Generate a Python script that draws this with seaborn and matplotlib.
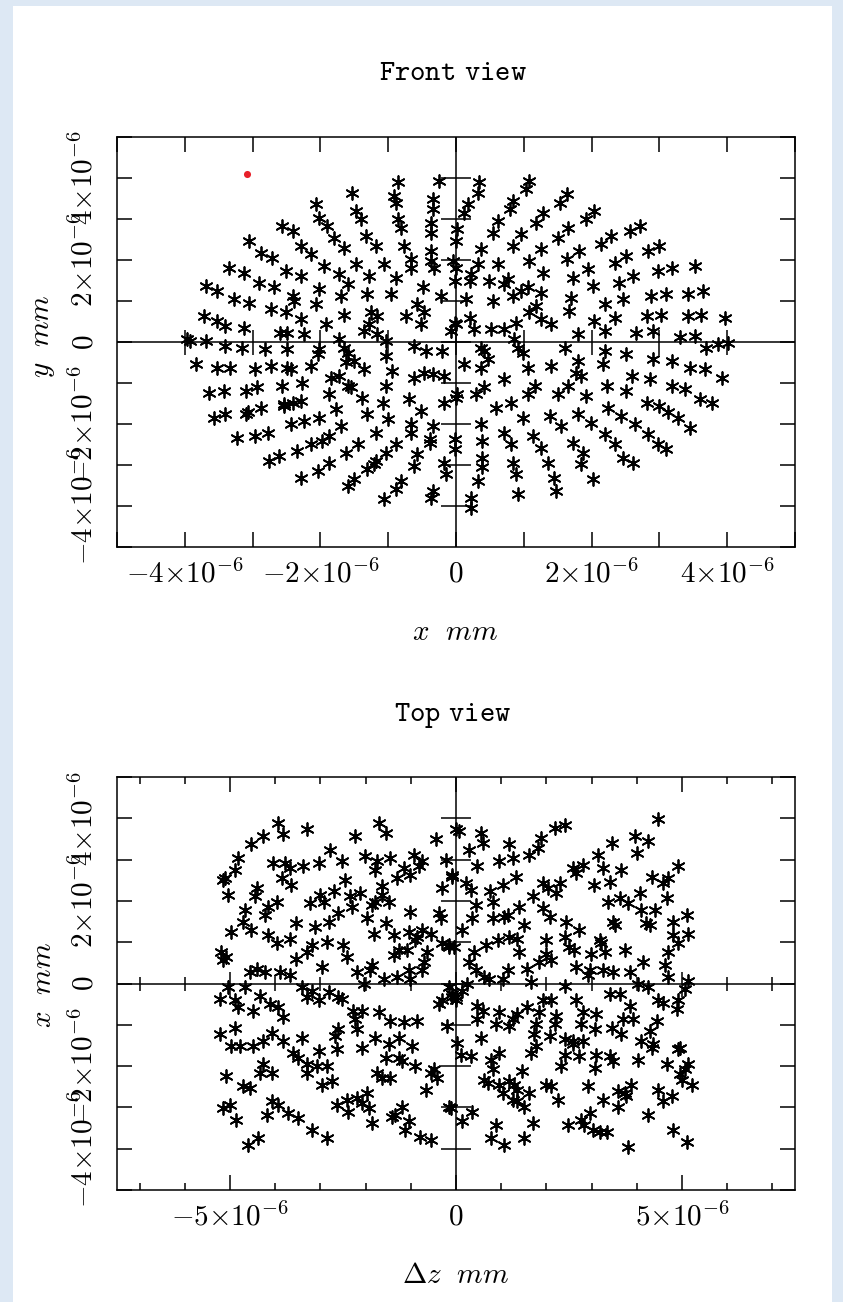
import matplotlib
matplotlib.use("Agg")
import matplotlib.pyplot as plt
from matplotlib.patches import Rectangle
from matplotlib.ticker import MultipleLocator, FuncFormatter
import seaborn as sns

# spot diagram values, in units of 1e-6 mm

# front view: x, y
front_x = [
    -0.86, -0.25, -0.91, -0.89, -0.34, -0.34, -1.53, -1.48, -1.40, -2.07, -2.02, -1.90, -2.56, -2.41,
    -3.05, -2.88, -2.71, -0.86, -0.81, -0.37, -0.37, -1.33, -1.18, -1.80, -1.65, -2.29, -2.14, -0.76,
    -0.66, -0.66, -0.37, -0.37, -0.32, -1.48, -1.06, -1.95, -1.72, -1.60, -2.51, -2.29, -3.35, -3.13,
    -2.91, -2.68, -3.69, -3.52, -3.28, -3.05, -2.73, -2.51, -2.29, -2.41, -2.39, -2.02, -2.07, -1.70,
    -1.28, -1.31, -0.89, -0.96, -0.49, -0.22, -0.57, -0.47, -0.52, -0.74, -1.26, -1.16, -1.28, -1.35,
    -1.65, -1.92, -3.72, -3.52, -3.40, -3.13, -2.59, -2.49, -2.24, -3.97, -3.92, -3.69, -3.40, -3.15,
    -2.81, -2.49, -2.02, -2.04, -1.72, -1.65, -1.60, -1.16, -1.03, -0.62, -0.44, -0.20, -0.07, -0.02,
    -0.05, 0.00,
    -3.84, -3.52, -3.33, -2.96, -2.73, -2.49, -2.44, -2.14, -3.64, -3.42, -3.10, -2.93, -2.56, -2.27,
    -1.84, -1.72, -1.63, -1.50, -1.35, -1.60, -1.55, -1.03, -0.94, -1.03, -0.62, -0.47, -0.34, -0.17,
    -3.57, -3.40, -3.10, -3.07, -2.88, -2.54, -2.54, -2.41, -2.29, -1.87, -1.77, -1.38, -1.31, -1.08,
    -0.69, -0.52, -0.17, -3.23, -2.96, -2.78, -2.44, -2.24, -2.02, -1.70, -1.87, -1.97, -1.18, -1.01,
    -0.66, -0.66, -0.34, -0.39, -0.02, -0.02, -2.76, -2.61, -2.34, -2.14, -1.63, -1.45, -1.18, -1.03,
    -0.89, -0.57, -0.62, -0.39, -0.17, -0.15, -2.29, -2.04, -1.87, -1.60, -1.50, -1.31, -1.21, -1.06,
    -0.89, -0.81, -0.37, -0.34,
    0.34, 0.32, 0.17, 0.12, 0.02, 0.00, 1.08, 1.03, 0.84, 0.79, 0.62, 0.54, 0.37, 0.32,
    1.63, 1.53, 1.28, 1.18, 0.96, 0.84, 0.62, 0.49, 0.22, 0.20, -0.02,
    2.04, 1.92, 1.65, 1.50, 1.26, 1.08, 0.76, 0.71, 0.54, 0.15,
    2.71, 2.56, 2.29, 2.14, 1.82, 1.63, 1.28, 1.06, 0.96, 0.84,
    3.00, 2.83, 2.51, 2.34, 1.95, 1.72, 1.26, 1.18, 1.08,
    3.52, 3.18, 2.98, 2.61, 2.41, 2.02, 1.70, 1.67,
    3.64, 3.42, 3.10, 2.88, 2.46, 2.19, 2.04, 2.34,
    3.96, 3.62, 3.42, 3.03, 2.81, 1.40, 1.26,
    0.89, 0.71, 0.52, 0.27, 0.20, 0.00,
    1.80, 2.19, 2.66, 2.91, 3.30, 3.52, 3.69, 3.87, 4.01,
    2.19, 2.17, 2.51, 2.91, 3.18, 3.45, 3.67, 3.92,
    1.60, 1.80, 1.77, 1.85, 1.40, 1.06,
    0.86, 0.91, 0.99, 0.37, 0.42, 0.47, 0.12, 0.37,
    0.71, 0.42, 0.30, 0.02, 0.00,
    1.16, 1.06, 0.81, 0.59, 1.65, 1.50, 1.92,
    2.22, 2.51, 2.59, 2.86, 3.18, 3.37, 3.60, 3.77,
    2.81, 3.00, 3.13, 3.28, 3.45,
    2.24, 2.44, 1.80, 1.99, 1.38, 1.55, 0.99,
    0.37, 0.39,
    0.71, 0.81, 1.13, 1.26, 1.72, 1.87, 2.19, 2.34,
    2.64, 2.83, 2.98, 3.10, 2.46, 2.61,
    1.85, 2.02, 1.35, 1.45, 1.48,
    0.84, 0.89, 0.91, 0.39, 0.39, 0.32, 0.22, 0.22,
]
front_y = [
    3.89, 3.93, 3.56, 3.40, 3.48, 3.24, 3.64, 3.20, 3.00, 3.36, 3.03, 2.83, 2.83, 2.71,
    2.46, 2.18, 2.06, 3.00, 2.79, 2.91, 2.67, 2.59, 2.34, 2.54, 2.30, 2.34, 2.14, 2.34,
    2.02, 1.81, 2.22, 1.98, 1.81, 1.89, 1.89, 1.85, 1.65, 1.41, 1.73, 1.61, 1.81, 1.69,
    1.45, 1.33, 1.37, 1.24, 1.04, 0.96, 0.80, 0.72, 0.55, 1.12, 1.00, 1.28, 0.92, 1.12,
    1.61, 1.16, 1.57, 1.16, 1.33, 1.12, 0.92, 0.72, 0.43, 0.63, 0.72, 0.63, 0.43, 0.27,
    0.67, 0.43, 0.63, 0.51, 0.39, 0.35, 0.23, 0.23, 0.19, 0.07, 0.02, 0.02, -0.10, -0.14,
    -0.18, -0.18, -0.18, -0.30, 0.07, -0.14, -0.26, 0.19, 0.02, -0.10, -0.22, -0.22, 0.27, 0.47,
    1.98, 1.81,
    -0.54, -0.63, -0.63, -0.67, -0.59, -0.63, -0.67, -0.59, -1.24, -1.20, -1.20, -1.11, -1.07, -0.99,
    -0.87, -0.83, -0.50, -0.46, -0.67, -1.07, -1.11, -0.34, -0.71, -1.07, -0.87, -0.75, -0.79, -0.83,
    -1.85, -1.76, -1.76, -1.72, -1.60, -1.56, -1.52, -1.48, -1.44, -1.28, -1.64, -1.36, -1.76, -1.48,
    -1.40, -1.68, -1.48, -2.33, -2.29, -2.21, -2.00, -1.93, -1.85, -2.05, -2.29, -2.41, -2.21, -1.89,
    -2.00, -2.21, -2.05, -2.37, -2.37, -2.62, -2.90, -2.78, -2.66, -2.50, -2.70, -2.50, -2.90, -2.70,
    -2.50, -2.74, -3.02, -2.46, -2.94, -3.23, -3.31, -3.15, -2.94, -3.51, -3.35, -3.11, -2.98, -3.84,
    -3.59, -3.39, -3.80, -3.63,
    3.89, 3.64, 3.36, 3.15, 2.75, 2.46, 3.93, 3.72, 3.44, 3.24, 2.95, 2.67, 2.26, 1.89,
    3.60, 3.40, 3.15, 2.91, 2.63, 2.34, 1.89, 1.49, 1.65, 1.49, 1.49,
    3.20, 2.99, 2.79, 2.54, 2.26, 1.98, 1.53, 1.41, 1.00, 1.04,
    2.83, 2.71, 2.59, 2.38, 2.22, 2.02, 1.69, 1.33, 1.24, 1.12,
    2.34, 2.22, 2.10, 1.93, 1.77, 1.57, 1.20, 0.88, 0.72,
    1.85, 1.81, 1.73, 1.61, 1.45, 1.37, 1.08, 0.76,
    1.24, 1.16, 1.16, 1.12, 1.04, 0.92, 0.51, 0.59,
    0.59, 0.67, 0.63, 0.67, 0.63, 0.43, 0.55,
    0.47, 0.31, 0.31, 0.31, 0.59, 0.43,
    0.19, 0.27, 0.23, 0.27, 0.11, 0.15, -0.14, -0.06, -0.02,
    -0.22, -0.54, -0.30, -0.42, -0.46, -0.63, -0.67, -0.87,
    -0.14, -0.46, -0.75, -0.83, -0.59, -0.63,
    0.07, -0.14, -0.26, -0.14, -0.22, -0.42, -0.54, -0.63,
    -0.91, -1.11, -1.28, -1.28, -1.36,
    -1.07, -1.28, -1.48, -1.60, -1.07, -1.28, -1.32,
    -1.07, -1.20, -0.83, -0.91, -1.07, -1.15, -1.40, -1.48,
    -1.48, -1.56, -1.72, -1.85, -2.09,
    -1.60, -1.80, -1.76, -1.97, -1.80, -2.05, -1.85,
    -2.01, -2.41,
    -2.21, -2.50, -2.29, -2.58, -2.46, -2.70, -2.25, -2.50,
    -2.01, -2.25, -2.50, -2.62, -2.82, -2.94,
    -2.98, -3.35, -2.94, -3.31, -3.63,
    -2.94, -3.23, -3.72, -2.82, -3.06, -3.39, -3.80, -4.04,
]

# the one highlighted (red) ray in the front view
chief_x = [-3.09]
chief_y = [4.09]

# top view: dz, x
top_dz = [
    -3.93, -3.82, -3.30, -4.27, -4.53, -4.82, -4.90, -5.16, -5.12, -5.04,
    -2.79, -2.23, -1.71, -1.56, -0.45,
    -4.04, -3.79, -3.68, -3.38, -3.04, -2.53, -2.01, -1.75, -1.79, -1.45, -1.30,
    -0.93, -0.75, -0.82, -1.16, -1.01, -0.23, -0.08, 0.00,
    -3.86, -3.64, -4.41, -4.45, -2.45, -1.63, -1.63, -0.30,
    -3.97, -4.16, -4.23, -3.01, -3.23, -2.93, -2.71, -2.34, -2.30, -2.12, -1.86, -1.79, -1.49,
    -4.67, -4.71, -4.53, -2.60, -2.82, -3.12, -3.53, -1.97, -1.82, -1.56, -1.01, -0.38, -0.34,
    -4.97, -4.16, -3.97, -3.67, -2.86, -3.19, -3.30, -3.53, -2.49, -2.41, -1.38, -1.27, -1.38,
    -1.04, -0.86, -0.75, -0.56, -1.08, -0.90, -0.64, -0.71, -0.30, -0.16, -0.04,
    -5.19, -5.08, -5.16, -4.56, -4.41, -4.23, -3.90, -3.67,
    -2.97, -2.19, -1.90, -1.86, -1.60, -1.30, -1.04, -1.01, -0.75, -2.04,
    -5.04, -4.67, -5.23, -4.90, -4.82, -4.49, -4.34, -4.12, -3.93, -3.82,
    -3.41, -3.30, -3.19, -3.04, -2.82, -2.60, -2.53,
    -2.27, -2.08, -2.23, -1.71, -1.45, -1.16, -0.86, -0.30, -0.38, -0.19,
    -5.23, -4.90, -4.97, -4.79, -4.49, -4.27, -4.08, -3.82,
    -3.41, -3.60, -3.49, -3.04, -2.63, -2.67, -2.60, -2.19,
    -2.08, -1.79, -1.49, -1.27, -0.97, -1.56, -1.27, -1.19,
    -4.27, -4.34, -4.08, -5.08, -4.71, -4.56,
    -3.30, -3.30, -3.08, -2.86, -2.97, -2.75,
    -1.75, -1.63, -1.45, -0.90, -0.67, -0.56, -0.49, -0.41,
    -5.16, -5.01, -4.86, -4.19, -4.08, -3.93, -3.71, -3.49,
    -3.19, -2.86, -2.64, -2.41, -2.38, -2.19, -2.08, -1.93, -1.97,
    -1.86, -1.41, -1.34, -1.19, -1.04, -1.12, -0.79, -0.56,
    -4.60, -4.38, -0.12, -0.08, 0.00,
    4.47, 2.40, 2.18, 1.88, 1.81, 1.62, 0.07, 0.55, 0.59, 0.29, 1.18, 1.25, 0.96, 0.47,
    3.44, 3.96, 4.00, 4.25, 3.14, 3.25, 2.58, 2.81, 2.66, 3.66, 4.92,
    1.33, 1.03, 1.92, 2.03, 2.29, 2.21, 3.06, 3.40, 4.33, 4.59, 4.70, 4.66,
    -0.08, 0.21, 0.33, 0.76, 0.81, 0.44, 0.14,
    1.70, 1.92, 2.07, 1.40, 1.14, 1.07, 1.51, 1.36, 1.18, 0.81, 0.36,
    3.36, 3.62, 3.81, 4.07, 4.10, 4.40, 4.21, 4.29, 3.47, 3.51,
    4.81, 5.10, 5.14, 4.81, 4.92, 4.70,
    2.44, 2.73, 2.40, 2.51, 2.62, 3.18, 3.21, 2.99, 3.29, 3.73,
    1.99, 1.99, 2.10, 1.84, 1.40, 0.92, 0.66, 0.40, 0.29, 0.44, -0.16,
    0.62, 0.73, 1.03, 1.14, 1.58, 1.66,
    2.66, 2.96, 2.92, 3.25, 3.47, 3.84, 4.14, 4.62, 4.70, 4.03, 4.25, 5.14, 5.07, 2.40,
    -0.16, -0.08, -0.01, 0.14, 0.25,
    3.40, 3.62, 3.84, 4.47, 4.59, 4.92, 4.88,
    2.66, 2.81, 3.10, 2.10, 1.92, 1.84, 2.21, 2.18,
    1.58, 1.36, 1.25, 0.96, 0.88, 1.18, 0.47, 0.59, 0.47,
    1.77, 1.73, 2.07, 2.77, 3.07, 3.44, 3.70, 3.92, 3.66,
    4.44, 4.29, 4.10, 4.36, 4.33, 2.40, 2.58, 2.81, 2.58,
    0.55, 0.03, 0.10, 0.33, 1.66, 1.77, 0.96, 0.77,
    2.40, 2.73, 3.10, 3.40, 3.47, 4.03, 4.96, 4.92, 4.66, 5.14, 5.07,
    0.81, 1.47, 2.33, 3.07, 4.96, 4.99, 5.21,
    0.62, 0.70, 0.96, 1.18, 1.29, 1.36, 1.03, 1.25, 1.36, 1.51, 1.62,
    1.99, 2.10, 2.25, 2.92, 3.25, 3.58, 3.73, 3.88, 3.58, 3.77,
    4.47, 4.59, 4.77, 4.25, 0.14, 0.36, 0.88, 0.77, 1.07, 1.51, 1.70,
    2.47, 2.77, 2.84, 2.96, 3.03, 3.18, 3.33, 3.81, 4.81, 5.10, -0.16,
]
top_x = [
    3.89, 3.61, 3.73, 3.57, 3.37, 3.04, 2.76, 2.51, 2.55, 2.15,
    3.24, 3.57, 3.89, 3.65, 3.49,
    2.92, 2.92, 2.80, 2.84, 2.92, 2.96, 3.08, 2.96, 2.76, 3.04, 2.55,
    3.12, 2.96, 2.84, 2.80, 2.63, 3.00, 2.63, 3.73,
    2.55, 2.39, 2.31, 2.11, 2.51, 2.35, 2.15, 2.31,
    1.98, 1.86, 1.66, 2.15, 1.94, 1.98, 2.23, 2.11, 1.86, 2.19, 1.90, 1.98, 1.98,
    1.78, 1.50, 1.29, 1.70, 1.50, 1.37, 1.46, 1.58, 1.21, 1.46, 1.74, 1.70, 1.58,
    1.25, 1.17, 0.97, 1.09, 1.01, 0.93, 0.76, 0.60, 0.93, 0.64, 1.17, 0.80, 0.68,
    1.25, 1.13, 1.29, 1.21, 0.80, 1.05, 0.76, 0.52, 0.97, 0.93, 0.89,
    0.76, 0.64, 0.56, 0.28, 0.36, 0.28, 0.28, 0.20,
    0.40, 0.28, 0.32, 0.44, 0.11, 0.15, 0.32, 0.11, 0.32, -0.01,
    -0.09, -0.09, -0.37, -0.41, -0.58, -0.66, -0.29, -0.50, -0.58, -0.82,
    -0.09, -0.33, -0.17, -0.41, -0.21, -0.33, -0.37,
    -0.66, -0.66, -0.86, -0.70, -0.90, -0.94, -0.90, -0.41, -0.50, -1.02,
    -1.23, -1.07, -1.51, -1.51, -1.51, -1.39, -1.19, -1.39,
    -1.31, -1.67, -1.80, -1.63, -1.59, -1.27, -1.11, -1.11,
    -1.55, -1.31, -1.47, -1.31, -1.51, -1.80, -1.80, -1.88,
    -1.96, -2.16, -2.16, -2.24, -2.49, -2.53,
    -1.96, -2.16, -2.00, -2.00, -2.45, -2.37,
    -2.16, -2.28, -2.28, -2.00, -2.57, -2.16, -2.08, -2.28,
    -3.02, -2.93, -3.30, -3.18, -2.85, -2.93, -3.14, -3.26,
    -3.54, -3.75, -2.93, -2.81, -3.10, -2.77, -2.89, -3.02, -2.65,
    -3.38, -3.22, -3.18, -2.98, -3.34, -3.54, -3.71, -3.79,
    -3.91, -3.75, -3.02, -0.33, -0.41,
    3.98, 3.85, 3.77, 3.53, 3.28, 3.12, 3.69, 3.65, 3.41, 3.24, 3.37, 3.04, 2.96, 2.84,
    3.41, 3.57, 3.16, 3.45, 3.12, 2.80, 2.80, 2.88, 2.67, 2.76, 2.84,
    2.59, 2.39, 2.43, 2.31, 2.43, 2.19, 2.39, 2.47, 2.59, 2.43, 2.55, 2.07,
    2.59, 2.43, 2.27, 2.23, 1.98, 1.90, 1.29,
    2.11, 1.82, 1.62, 1.86, 1.66, 1.62, 1.41, 1.09, 1.13, 1.58, 1.58,
    1.98, 2.07, 1.94, 2.19, 1.78, 1.78, 1.46, 1.41, 1.50, 1.41,
    1.50, 1.66, 1.21, 1.17, 0.97, 0.76,
    1.50, 1.29, 1.13, 0.89, 0.80, 1.05, 0.97, 0.72, 0.76, 0.80,
    1.05, 0.72, 0.56, 0.52, 0.76, 1.05, 0.93, 0.76, 0.52, 0.32, 0.89,
    0.15, 0.11, 0.11, 0.32, 0.36, 0.03,
    0.40, 0.32, 0.20, 0.32, 0.28, 0.28, 0.52, 0.44, 0.15, -0.01, -0.09, 0.07, -0.13, -0.05,
    -0.09, -0.25, -0.33, -0.17, -0.01,
    -0.25, -0.25, -0.54, -0.41, -0.46, -0.41, -0.62,
    -0.41, -0.70, -0.74, -0.41, -0.41, -0.70, -0.78, -0.98,
    -0.58, -0.74, -0.86, -0.70, -0.98, -1.02, -0.54, -0.66, -0.86,
    -0.98, -1.23, -1.27, -0.98, -1.11, -1.07, -0.86, -0.86, -1.23,
    -0.90, -1.15, -1.39, -1.47, -1.55, -1.35, -1.39, -1.39, -1.47,
    -1.31, -1.43, -1.72, -1.75, -1.67, -1.51, -1.67, -1.84,
    -1.72, -1.76, -1.72, -1.76, -1.88, -1.84, -1.55, -1.59, -1.96, -1.96, -2.08,
    -2.08, -2.12, -2.00, -2.04, -2.20, -2.33, -2.45,
    -2.33, -2.41, -2.45, -2.37, -2.45, -2.57, -2.65, -2.81, -2.85, -2.98, -2.65,
    -2.45, -2.49, -2.81, -2.49, -2.81, -2.61, -2.65, -2.45, -2.98, -2.73,
    -2.57, -2.85, -2.73, -3.18, -3.34, -3.10, -3.42, -3.75, -3.91, -3.75, -3.38,
    -3.42, -3.30, -3.42, -3.14, -3.54, -3.59, -3.59, -3.95, -3.54, -3.83, -2.98,
]

front_xticks = [-4, -3, -2, -1, 0, 1, 2, 3, 4]
yticks = [-4, -3, -2, -1, 0, 1, 2, 3, 4]
top_xticks_major = [-5, 0, 5]
top_xticks_minor = [-7, -6, -4, -3, -2, -1, 1, 2, 3, 4, 6, 7]

plt.rcParams['mathtext.fontset'] = 'cm'
plt.rcParams['font.family'] = 'DejaVu Serif'
plt.rcParams['axes.linewidth'] = 1.1

star = (6, 2, 0)
fs = 21


def sci_label(v, pos):
    if abs(v) < 1e-9:
        return r'$0$'
    return r'$%d{\times}10^{-6}$' % round(v)


fig = plt.figure(figsize=(8.43, 13.02), dpi=100)
fig.patch.set_facecolor('#dde8f4')
# white sheet behind the plots
fig.patches.append(Rectangle((13 / 843, 0), (832 - 13) / 843, 1 - 6 / 1302,
                             transform=fig.transFigure, facecolor='white',
                             edgecolor='none', zorder=-5))

ax1 = fig.add_axes([0.1388, 0.5799, 0.8043, 0.3149])
ax2 = fig.add_axes([0.1388, 0.0860, 0.8043, 0.3172])

# front view
sns.scatterplot(x=front_x, y=front_y, marker=star, color='black', s=85,
                linewidth=1.3, ax=ax1, zorder=3)
sns.scatterplot(x=chief_x, y=chief_y, marker='o', color='#e8202a', s=26,
                linewidth=0, ax=ax1, zorder=4)
ax1.set_xlim(-5, 5)
ax1.set_ylim(-5, 5)
ax1.xaxis.set_major_locator(MultipleLocator(2))
ax1.xaxis.set_minor_locator(MultipleLocator(1))
ax1.yaxis.set_major_locator(MultipleLocator(2))
ax1.yaxis.set_minor_locator(MultipleLocator(1))
ax1.tick_params(which='both', direction='in', top=True, right=True, length=11, width=1.1)

# top view
sns.scatterplot(x=top_dz, y=top_x, marker=star, color='black', s=85,
                linewidth=1.3, ax=ax2, zorder=3)
ax2.set_xlim(-7.5, 7.5)
ax2.set_ylim(-5, 5)
ax2.xaxis.set_major_locator(MultipleLocator(5))
ax2.xaxis.set_minor_locator(MultipleLocator(1))
ax2.yaxis.set_major_locator(MultipleLocator(2))
ax2.yaxis.set_minor_locator(MultipleLocator(1))
ax2.tick_params(which='both', direction='in', top=True, right=True, width=1.1)
ax2.tick_params(axis='x', which='major', length=11)
ax2.tick_params(axis='x', which='minor', length=5)
ax2.tick_params(axis='y', which='both', length=11)

for ax, xmaj, xmin in [(ax1, front_xticks, []), (ax2, top_xticks_major, top_xticks_minor)]:
    ax.set_facecolor('white')
    ax.axhline(0, color='black', lw=1.1, zorder=2)
    ax.axvline(0, color='black', lw=1.1, zorder=2)
    # ticks along the zero lines
    ax.plot([0] * len(yticks), yticks, ls='none', marker='_', ms=22, mew=1.1, color='black', zorder=2)
    ax.plot(xmaj, [0] * len(xmaj), ls='none', marker='|', ms=18, mew=1.1, color='black', zorder=2)
    if xmin:
        ax.plot(xmin, [0] * len(xmin), ls='none', marker='|', ms=10, mew=1.1, color='black', zorder=2)
    ax.xaxis.set_major_formatter(FuncFormatter(sci_label))
    ax.yaxis.set_major_formatter(FuncFormatter(sci_label))
    ax.tick_params(axis='x', which='major', labelsize=fs, pad=9)
    ax.tick_params(axis='y', which='major', labelsize=fs, pad=13, labelrotation=90)
    for lab in ax.get_yticklabels():
        lab.set_va('center')
    ax.set_xlabel('')
    ax.set_ylabel('')

fig.text(0.537, 0.9447, r'$\mathtt{Front\ view}$', ha='center', va='center', fontsize=fs)
fig.text(0.540, 0.5146, r'$x\ \ mm$', ha='center', va='center', fontsize=fs)
fig.text(0.051, 0.742, r'$y\ \ mm$', ha='center', va='center', fontsize=fs, rotation=90)

fig.text(0.537, 0.4508, r'$\mathtt{Top\ view}$', ha='center', va='center', fontsize=fs)
fig.text(0.540, 0.0207, r'$\Delta z\ \ mm$', ha='center', va='center', fontsize=fs)
fig.text(0.051, 0.2435, r'$x\ \ mm$', ha='center', va='center', fontsize=fs, rotation=90)

fig.savefig('out.png', dpi=100, facecolor=fig.get_facecolor())
